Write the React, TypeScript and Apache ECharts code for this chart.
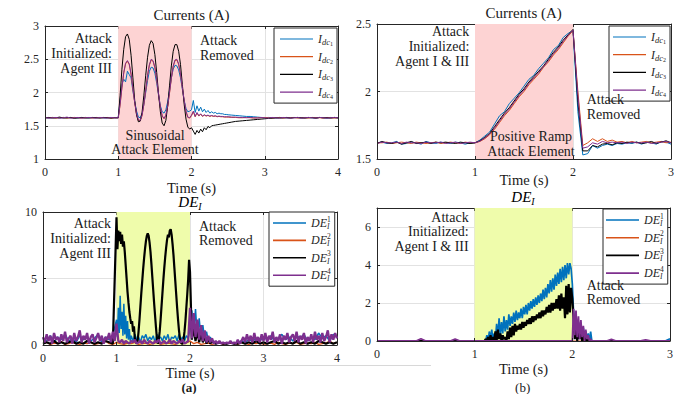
import React, { useEffect, useRef } from 'react';
import * as echarts from 'echarts';

const SERIF = 'Liberation Serif, serif';
const INK = '#262626';
const TXT = '#1a1a1a';
const BLUE = '#0072BD';
const ORANGE = '#D95319';
const BLACK = '#000000';
const PURPLE = '#7E2F8E';
const SHADE_RED = '#fdd3d3';
const SHADE_YEL = '#effcab';
const GRIDLINE = '#e2e2e2';

// ---------- (a) Currents, sinusoidal attack ----------
// segments: pre 0..0.95 (0.05), att 1.0..1.975 (0.025), post1 2.0..2.475 (0.025), post2 2.5..4.0 (0.05)
const A_BLUE_PRE = [1.62,1.615,1.625,1.62,1.615,1.625,1.62,1.62,1.625,1.615,1.62,1.625,1.615,1.62,1.62,1.625,1.615,1.62,1.625,1.62];
const A_BLUE_ATT = [1.62,1.88,2.12,2.20,2.16,2.32,2.27,2.22,2.02,1.86,1.72,1.63,1.62,1.68,1.82,2.00,2.18,2.32,2.38,2.37,2.29,2.14,1.96,1.80,1.71,1.69,1.74,1.86,2.03,2.22,2.35,2.41,2.40,2.34,2.22,2.05,1.88,1.76,1.71,1.72];
const A_BLUE_P1 = [1.74,1.88,1.70,1.80,1.72,1.78,1.71,1.75,1.70,1.73,1.69,1.71,1.69,1.70,1.68,1.69,1.68,1.68,1.67,1.67];
const A_BLUE_P2 = [1.665,1.66,1.655,1.65,1.645,1.64,1.64,1.635,1.63,1.625,1.62,1.625,1.62,1.615,1.625,1.62,1.615,1.62,1.625,1.62,1.615,1.625,1.62,1.62,1.615,1.625,1.62,1.615,1.625,1.62,1.615];
const A_ORANGE_PRE = [1.62,1.62,1.625,1.615,1.62,1.625,1.615,1.62,1.625,1.62,1.615,1.625,1.62,1.615,1.625,1.62,1.62,1.625,1.615,1.62];
const A_ORANGE_ATT = [1.62,1.81,2.07,2.29,2.43,2.47,2.42,2.27,2.06,1.84,1.67,1.58,1.575,1.65,1.82,2.03,2.25,2.41,2.49,2.47,2.37,2.19,1.97,1.77,1.645,1.605,1.655,1.79,1.99,2.21,2.39,2.48,2.49,2.42,2.27,2.07,1.87,1.71,1.625,1.615];
const A_ORANGE_P1 = [1.65,1.71,1.635,1.69,1.645,1.675,1.64,1.66,1.645,1.655,1.64,1.65,1.64,1.645,1.635,1.64,1.635,1.635,1.63,1.63];
const A_ORANGE_P2 = [1.63,1.625,1.625,1.62,1.62,1.625,1.62,1.615,1.62,1.62,1.625,1.62,1.615,1.62,1.625,1.615,1.62,1.62,1.625,1.615,1.62,1.62,1.615,1.625,1.62,1.62,1.615,1.625,1.62,1.615,1.62];
const A_BLACK_PRE = [1.62,1.625,1.615,1.62,1.63,1.615,1.62,1.625,1.61,1.62,1.625,1.615,1.62,1.625,1.62,1.615,1.625,1.62,1.615,1.62];
const A_BLACK_ATT = [1.62,1.95,2.35,2.65,2.84,2.88,2.80,2.56,2.22,1.88,1.66,1.56,1.57,1.70,1.96,2.26,2.53,2.71,2.78,2.74,2.57,2.30,1.98,1.71,1.54,1.50,1.58,1.80,2.10,2.40,2.62,2.72,2.72,2.62,2.42,2.12,1.82,1.60,1.48,1.45];
const A_BLACK_P1 = [1.47,1.42,1.37,1.43,1.39,1.45,1.41,1.47,1.44,1.49,1.47,1.50,1.505,1.51,1.515,1.52,1.525,1.53,1.535,1.54];
const A_BLACK_P2 = [1.545,1.555,1.565,1.57,1.575,1.58,1.585,1.59,1.595,1.60,1.605,1.61,1.615,1.62,1.615,1.62,1.625,1.615,1.62,1.625,1.62,1.615,1.625,1.62,1.615,1.625,1.62,1.62,1.615,1.625,1.62];
const A_PURPLE_PRE = [1.625,1.615,1.62,1.625,1.615,1.62,1.63,1.615,1.62,1.625,1.615,1.62,1.625,1.62,1.615,1.625,1.62,1.615,1.625,1.62];
const A_PURPLE_ATT = [1.62,1.82,2.08,2.30,2.44,2.48,2.43,2.28,2.07,1.85,1.68,1.59,1.58,1.66,1.83,2.04,2.26,2.42,2.50,2.48,2.38,2.20,1.98,1.78,1.65,1.61,1.66,1.80,2.00,2.22,2.40,2.49,2.50,2.43,2.28,2.08,1.88,1.72,1.63,1.62];
const A_PURPLE_P1 = [1.66,1.72,1.64,1.70,1.65,1.68,1.645,1.665,1.65,1.66,1.645,1.655,1.645,1.65,1.64,1.645,1.64,1.64,1.635,1.635];
const A_PURPLE_P2 = [1.635,1.63,1.63,1.625,1.625,1.62,1.625,1.62,1.615,1.625,1.62,1.615,1.625,1.62,1.615,1.625,1.62,1.615,1.62,1.625,1.615,1.62,1.625,1.62,1.615,1.625,1.62,1.615,1.62,1.625,1.62];

// ---------- (b) Currents, ramp attack ----------
// segments: pre 0..0.95, ramp 1.0..2.0, post 2.05..3.0 (all 0.05)
const B_BLUE_PRE = [1.62,1.625,1.615,1.62,1.63,1.61,1.615,1.625,1.62,1.61,1.63,1.62,1.615,1.625,1.62,1.615,1.625,1.62,1.61,1.62];
const B_BLUE_RAMP = [1.62,1.64,1.67,1.70,1.76,1.82,1.85,1.91,1.95,1.99,2.04,2.09,2.12,2.17,2.21,2.25,2.31,2.34,2.40,2.43,2.45];
const B_BLUE_POST = [1.85,1.53,1.54,1.60,1.58,1.60,1.61,1.60,1.615,1.61,1.62,1.615,1.625,1.61,1.625,1.62,1.61,1.63,1.625,1.61];
const B_ORANGE_PRE = [1.62,1.62,1.625,1.615,1.62,1.625,1.62,1.615,1.625,1.62,1.615,1.62,1.625,1.615,1.62,1.625,1.62,1.615,1.625,1.62];
const B_ORANGE_RAMP = [1.62,1.63,1.65,1.68,1.72,1.77,1.82,1.86,1.91,1.96,2.00,2.05,2.09,2.13,2.18,2.22,2.27,2.31,2.36,2.41,2.45];
const B_ORANGE_POST = [2.0,1.60,1.62,1.65,1.63,1.65,1.63,1.64,1.625,1.63,1.62,1.63,1.62,1.625,1.63,1.62,1.625,1.63,1.62,1.625];
const B_BLACK_PRE = [1.615,1.63,1.62,1.615,1.625,1.61,1.62,1.63,1.615,1.62,1.625,1.615,1.625,1.62,1.625,1.62,1.615,1.625,1.62,1.615];
const B_BLACK_RAMP = [1.62,1.635,1.66,1.69,1.74,1.79,1.84,1.88,1.93,1.98,2.02,2.07,2.11,2.15,2.19,2.24,2.29,2.33,2.38,2.42,2.46];
const B_BLACK_POST = [1.92,1.56,1.56,1.60,1.59,1.61,1.615,1.605,1.62,1.615,1.625,1.62,1.625,1.615,1.62,1.63,1.615,1.625,1.635,1.62];
const B_PURPLE_PRE = [1.615,1.625,1.62,1.62,1.625,1.615,1.625,1.62,1.62,1.615,1.625,1.62,1.62,1.625,1.615,1.62,1.625,1.615,1.62,1.625];
const B_PURPLE_RAMP = [1.62,1.632,1.655,1.685,1.73,1.78,1.83,1.87,1.92,1.97,2.01,2.06,2.10,2.14,2.185,2.23,2.28,2.32,2.37,2.415,2.455];
const B_PURPLE_POST = [1.97,1.58,1.59,1.62,1.61,1.63,1.62,1.625,1.62,1.625,1.615,1.625,1.62,1.62,1.625,1.615,1.62,1.625,1.63,1.62];

// ---------- (a) DE_I ----------
const C_BLUE_PRE = [0.5,0.3,0.7,0.2,0.6,0.4,0.8,0.3,0.5,0.2,0.7,0.4,0.6,0.3,0.5,0.8,0.2,0.6,0.4,0.7]; // 0..0.95 step 0.05
const C_BLUE_A1 = [1.9,0.6,2.8,0.9,3.7,1.2,2.5,0.7,3.1,0.8,2.2,0.5,1.8,0.4,1.2,0.3]; // 1.0.. step 0.0125
const C_BLUE_A2 = [0.7,0.3,0.8,0.4,0.6,0.2,0.7,0.5,0.8,0.3,0.6,0.4,0.7,0.2,0.8,0.5,0.6,0.3,0.7,0.4,0.8,0.2,0.6,0.5,0.7,0.3,0.8,0.4,0.6,0.3,0.7,0.5]; // 1.2.. step 0.025
const C_BLUE_P1 = [1.2,2.6,0.8,2.7,0.6,2.0,0.5,1.5,0.4,1.0,0.3,0.6]; // 2.0.. step 0.025
const C_BLUE_P2 = [0.2,0.1,0.2,0.1,0.1,0.2,0.1,0.2,0.3,0.2,0.4,0.3,0.5,0.3,0.6,0.4,0.7,0.3,0.5,0.8,0.4,0.6,0.3,0.7,0.5,0.8,0.3,0.6,0.4,0.9,0.5,0.7,0.3,0.8,0.6]; // 2.3.. step 0.05
const C_ORANGE = [0.1,0.2,0.05,0.15,0.1,0.25,0.05,0.1,0.2,0.1,0.05,0.15,0.1,0.2,0.05,0.1,0.15,0.3,0.1,0.05,0.2,0.1,0.05,0.15,0.1,0.2,0.05,0.1,0.15,0.05,0.1,0.2,0.05,0.1,0.15,0.1,0.05,0.2,0.1,0.15,0.3,0.1,0.2,0.05,0.1,0.15,0.05,0.1,0.2,0.05,0.1,0.15,0.1,0.05,0.2,0.1,0.05,0.15,0.1,0.2,0.05,0.1,0.15,0.05,0.2,0.1,0.05,0.15,0.1,0.2,0.05,0.1,0.15,0.1,0.2,0.05,0.1,0.15,0.3,0.1,0.2]; // 0..4 step 0.05
const C_BLACK_PRE = [0.1,0.2,0.1,0.3,0.1,0.2,0.1,0.2,0.3,0.1,0.2,0.1,0.3,0.2,0.1,0.2,0.1,0.3,0.2,0.1];
const C_BLACK_ATT = [9.6,7.2,8.6,7.8,8.5,7.6,8.3,7.4,7.8,7.0,6.0,5.0,4.0,3.2,2.5,2.0,1.6,1.8,1.0,1.4,0.5,0.3,0.1,0.3,1.0,1.9,2.9,3.9,4.8,5.7,6.5,7.2,7.8,8.2,8.4,8.2,7.7,7.0,6.1,5.1,4.1,3.1,2.2,1.3,0.5,0.1,0.4,1.0,1.9,2.9,3.9,4.9,5.8,6.6,7.3,7.9,8.3,8.1,8.6,8.7,8.3,7.6,6.8,5.8,4.8,3.8,2.8,1.9,1.1,0.5,0.2,0.1,0.1,0.4,1.0,1.8,2.8,3.8,4.9,6.4,5.5]; // 1.0..2.0 step 0.0125
const C_BLACK_P1 = [0.4,1.3,0.3,1.1,0.2,0.9,0.2,0.7,0.1,0.5,0.1,0.3]; // 2.025.. step 0.025
const C_BLACK_P2 = [0.1,0.2,0.1,0.1,0.2,0.1,0.1,0.2,0.1,0.2,0.1,0.3,0.1,0.2,0.1,0.2,0.3,0.1,0.2,0.1,0.2,0.1,0.3,0.1,0.2,0.1,0.2,0.1,0.3,0.2,0.1,0.2,0.1,0.2]; // 2.35.. step 0.05
const C_PURPLE_PRE = [0.6,0.2,0.8,0.3,0.7,0.1,0.9,0.4,0.6,0.2,0.8,0.3,1.0,0.2,0.5,0.7,0.1,0.9,0.3,0.6,1.1,0.2,0.7,0.4,0.9,0.1,0.6,0.8,0.2,0.5,0.9,0.3,0.7,0.1,0.6,0.4,0.9,0.2,1.0,0.3]; // 0.. step 0.025
const C_PURPLE_ATT = [1.6,0.3,0.2,0.4,0.1,0.3,0.2,0.1,0.3,0.2,0.4,0.1,0.2,0.3,0.1,0.4,0.2,0.1,0.3,0.2,0.1,0.3,0.2,0.4,0.1,0.2,0.3,0.1,0.2,0.4,0.1,0.3,0.2,0.1,0.3,0.2,0.4,0.1,0.2,0.3]; // 1.0.. step 0.025
const C_PURPLE_POST = [2.8,0.5,2.4,0.6,1.9,0.4,1.5,0.3,1.1,0.2,0.7,0.2,0.5,0.1,0.3,0.1,0.3,0.1,0.2,0.1,0.2,0.1,0.3,0.1,0.2,0.1,0.4,0.1,0.3,0.6,0.2,0.8,0.3,0.7,0.2,0.9,0.3,0.6,0.2,0.8,0.3,0.9,0.2,0.7,0.4,1.0,0.2,0.6,0.3,0.8,0.1,0.7,0.4,0.9,0.2,0.6,0.8,0.3,1.0,0.2,0.7,0.4,0.9,0.1,0.6,0.3,0.8,0.2,1.0,0.4,0.7,0.2,0.9,0.3,0.6,1.1,0.2,0.8,0.4,0.9,0.5]; // 2.0..4.0 step 0.025

// ---------- (b) DE_I ----------
const D_ZERO_PRE = [0,0,0,0,0,0,0,0,0,0,0]; // 0..1.0 step 0.1
const D_BLUE_ATT = [0,0,0.3,0,0.5,0.1,0.6,0,0.4,0.1,0.9,0.2,1.2,0.3,1.0,0.4,1.3,0.5,1.1,0.6,1.4,0.8,1.3,0.9,1.5,1.0,1.6,1.1,1.5,1.2,1.7,1.2,1.8,1.4,1.9,1.4,2.0,1.6,2.1,1.7,2.2,1.8,2.3,1.9,2.4,2.0,2.5,2.1,2.7,2.2,2.8,2.3,3.0,2.5,3.2,2.6,3.3,2.7,3.5,2.9,3.6,3.0,3.8,3.1,3.9,3.2,4.0,3.3,4.1,3.5,4.1,3.8,3.0]; // 1.1..2.0 step 0.0125
const D_BLUE_POST = [1.5,0.4,1.3,0.3,1.0,0.2,0.9,0.1,0.7,0.2,0.5,0.1,0.4,0,0.5,0]; // 2.0125.. step 0.0125
const D_BLUE_END = [0,0,0,0,0,0,0,0,0,0,0,0,0,0,0,0.12]; // 2.25..3.0 step 0.05
const D_BLACK_ATT = [0,0.1,0,0.2,0,0.3,0,0.2,0,0.5,0,0.6,0.1,0.4,0,0.3,0.1,0.2,0,0.5,0.1,0.7,0.2,0.8,0.3,0.9,0.5,0.8,0.6,0.9,0.6,1.0,0.7,1.0,0.8,1.1,0.9,1.2,0.9,1.3,1.0,1.3,1.1,1.4,1.2,1.5,1.2,1.6,1.3,1.6,1.4,1.8,1.5,1.9,1.5,2.0,1.6,2.0,1.7,2.2,1.7,2.4,1.6,2.5,1.7,2.3,1.2,2.9,1.4,3.0,1.5,2.8,2.2];
const D_BLACK_POST = [1.2,0.1,1.0,0,0.8,0.1,0.6,0,0.4,0,0.2,0,0.1,0,0,0];
const D_BLACK_END = [0,0,0,0,0,0,0,0,0,0,0,0,0,0,0,0];
const D_PURPLE_PRE = [0,0,0,0,0,0,0,0,0,0.12,0,0,0,0,0,0,0.1,0,0,0,0,0,0,0,0,0,0,0,0,0,0,0,0,0,0,0,0,0,0,0,0]; // 0..2.0 step 0.05
const D_PURPLE_POST = [1.7,0.3,1.6,0.2,1.3,0.1,1.1,0.2,0.8,0,0.6,0.1,0.3,0,0.1,0];
const D_PURPLE_END = [0,0,0,0.08,0,0,0,0,0,0,0.06,0,0,0,0,0];
const D_ORANGE = [0,0,0,0,0,0,0,0,0,0,0,0,0,0,0,0,0,0,0,0,0,0,0,0,0,0,0,0,0,0,0]; // 0..3 step 0.1

const X_MAX_A = 4;
const X_MAX_B = 3;

const seg = (t0: number, dt: number, vals: number[]) =>
  vals.map((v, i) => [Math.round((t0 + i * dt) * 10000) / 10000, v]);

function lineSeries(name: string, color: string, width: number, k: number, data: number[][], extra: any = {}) {
  return {
    type: 'line', name, xAxisIndex: 2 * k, yAxisIndex: 2 * k, data,
    symbol: 'none', showSymbol: false, silent: true, animation: false, clip: true,
    lineStyle: { color, width }, itemStyle: { color }, emphasis: { disabled: true },
    ...extra,
  };
}

function shade(color: string) {
  return { silent: true, itemStyle: { color }, data: [[{ xAxis: 1 }, { xAxis: 2 }]] };
}

function xAxesFor(k: number, max: number, nameGap: number) {
  const line = { show: true, onZero: false, lineStyle: { color: INK, width: 1 } };
  const tick = { show: true, inside: true, length: 3, lineStyle: { color: INK } };
  return [
    {
      type: 'value', gridIndex: k, position: 'bottom', min: 0, max, interval: 1, z: 5,
      axisLine: line, axisTick: tick,
      axisLabel: { color: INK, fontFamily: SERIF, fontSize: 12, margin: 7 },
      splitLine: { show: false },
      name: 'Time (s)', nameLocation: 'middle', nameGap, nameMoveOverlap: false,
      nameTextStyle: { color: TXT, fontFamily: SERIF, fontSize: 14.5, fontWeight: 'normal' },
    },
    {
      type: 'value', gridIndex: k, position: 'top', min: 0, max, interval: 1, z: 0,
      axisLine: line, axisTick: tick, axisLabel: { show: false },
      splitLine: { show: true, lineStyle: { color: GRIDLINE, width: 1 } },
    },
  ];
}

function yAxesFor(k: number, min: number, max: number, interval: number, showMax = true) {
  const line = { show: true, onZero: false, lineStyle: { color: INK, width: 1 } };
  const tick = { show: true, inside: true, length: 3, lineStyle: { color: INK } };
  return [
    {
      type: 'value', gridIndex: k, position: 'left', min, max, interval, z: 5,
      axisLine: line, axisTick: tick,
      axisLabel: { color: INK, fontFamily: SERIF, fontSize: 12, margin: 6, showMaxLabel: showMax },
      splitLine: { show: false },
    },
    {
      type: 'value', gridIndex: k, position: 'right', min, max, interval, z: 0,
      axisLine: line, axisTick: tick, axisLabel: { show: false },
      splitLine: { show: true, lineStyle: { color: GRIDLINE, width: 1 } },
    },
  ];
}

const RICH = {
  i: { fontFamily: SERIF, fontStyle: 'italic', fontSize: 12, lineHeight: 12, color: INK },
  s: { fontFamily: SERIF, fontStyle: 'italic', fontSize: 8.5, lineHeight: 12, padding: [6, 0, 0, 0], color: INK },
  ss: { fontFamily: SERIF, fontSize: 6, lineHeight: 12, padding: [10, 0, 0, 0], color: INK },
  d: { fontFamily: SERIF, fontStyle: 'italic', fontSize: 12, lineHeight: 12, color: INK },
  sp: { fontFamily: SERIF, fontSize: 7.5, lineHeight: 12, padding: [0, 0, 8, 0], width: 0, color: INK },
  sb: { fontFamily: SERIF, fontStyle: 'italic', fontSize: 7.5, lineHeight: 12, padding: [7, 0, 0, 0], color: INK },
};

const CUR_NAMES = ['Idc1', 'Idc2', 'Idc3', 'Idc4'];
const DE_NAMES = ['DE1', 'DE2', 'DE3', 'DE4'];

function legendFor(names: string[], left: number, top: number, gap: number, padLeft: number, thick: number) {
  const h = thick.toFixed(2);
  return {
    orient: 'vertical', left, top, itemWidth: 33, itemHeight: 12, itemGap: gap,
    icon: `path://M0,0 L33,0 L33,${h} L0,${h} Z`,
    padding: [3, 4, 3, padLeft], backgroundColor: '#fff', borderColor: INK, borderWidth: 1,
    borderRadius: 0, data: names, selectedMode: false, z: 8,
    textStyle: { color: INK, fontFamily: SERIF, fontSize: 12, rich: RICH },
    formatter: (name: string) =>
      name.startsWith('Idc') ? `{i|I}{s|dc}{ss|${name.slice(3)}}` : `{d|DE}{sp|${name.slice(2)}}{sb|I}`,
  };
}

function txt(text: string, x: number, y: number, align: string, lineHeight: number, extra: any = {}) {
  return {
    type: 'text', z: 10, silent: true,
    style: {
      text, x, y, align, textAlign: align, verticalAlign: 'top', textVerticalAlign: 'top',
      lineHeight, fontFamily: SERIF, fontSize: 14, fill: TXT, ...extra,
    },
  };
}

function deTitle(x: number, y: number) {
  return {
    type: 'text', z: 10, silent: true,
    style: {
      text: '{d|DE}{s|I}', x, y, align: 'center', verticalAlign: 'middle',
      textAlign: 'center', textVerticalAlign: 'middle',
      rich: {
        d: { fontFamily: SERIF, fontStyle: 'italic', fontSize: 15, lineHeight: 14, color: TXT },
        s: { fontFamily: SERIF, fontStyle: 'italic', fontSize: 10, lineHeight: 14, padding: [8, 0, 0, 0], color: TXT },
      },
    },
  };
}

export default function App() {
  const ref = useRef<HTMLDivElement>(null);
  useEffect(() => {
    if (!ref.current) return;
    const chart = echarts.init(ref.current, null, { renderer: 'svg' });

    const series: any[] = [
      // (a) currents
      lineSeries('Idc1', BLUE, 1, 0, [...seg(0, 0.05, A_BLUE_PRE), ...seg(1, 0.025, A_BLUE_ATT), ...seg(2, 0.025, A_BLUE_P1), ...seg(2.5, 0.05, A_BLUE_P2)], { markArea: shade(SHADE_RED) }),
      lineSeries('Idc2', ORANGE, 1, 0, [...seg(0, 0.05, A_ORANGE_PRE), ...seg(1, 0.025, A_ORANGE_ATT), ...seg(2, 0.025, A_ORANGE_P1), ...seg(2.5, 0.05, A_ORANGE_P2)]),
      lineSeries('Idc3', BLACK, 1, 0, [...seg(0, 0.05, A_BLACK_PRE), ...seg(1, 0.025, A_BLACK_ATT), ...seg(2, 0.025, A_BLACK_P1), ...seg(2.5, 0.05, A_BLACK_P2)]),
      lineSeries('Idc4', PURPLE, 1, 0, [...seg(0, 0.05, A_PURPLE_PRE), ...seg(1, 0.025, A_PURPLE_ATT), ...seg(2, 0.025, A_PURPLE_P1), ...seg(2.5, 0.05, A_PURPLE_P2)]),
      // (b) currents
      lineSeries('Idc1', BLUE, 1, 1, [...seg(0, 0.05, B_BLUE_PRE), ...seg(1, 0.05, B_BLUE_RAMP), ...seg(2.05, 0.05, B_BLUE_POST)], { markArea: shade(SHADE_RED) }),
      lineSeries('Idc2', ORANGE, 1, 1, [...seg(0, 0.05, B_ORANGE_PRE), ...seg(1, 0.05, B_ORANGE_RAMP), ...seg(2.05, 0.05, B_ORANGE_POST)]),
      lineSeries('Idc3', BLACK, 1, 1, [...seg(0, 0.05, B_BLACK_PRE), ...seg(1, 0.05, B_BLACK_RAMP), ...seg(2.05, 0.05, B_BLACK_POST)]),
      lineSeries('Idc4', PURPLE, 1, 1, [...seg(0, 0.05, B_PURPLE_PRE), ...seg(1, 0.05, B_PURPLE_RAMP), ...seg(2.05, 0.05, B_PURPLE_POST)]),
      // (a) DE
      lineSeries('DE1', BLUE, 1.5, 2, [...seg(0, 0.05, C_BLUE_PRE), ...seg(1, 0.0125, C_BLUE_A1), ...seg(1.2, 0.025, C_BLUE_A2), ...seg(2, 0.025, C_BLUE_P1), ...seg(2.3, 0.05, C_BLUE_P2)], { markArea: shade(SHADE_YEL) }),
      lineSeries('DE2', ORANGE, 1.4, 2, seg(0, 0.05, C_ORANGE)),
      lineSeries('DE3', BLACK, 2.2, 2, [...seg(0, 0.05, C_BLACK_PRE), ...seg(1, 0.0125, C_BLACK_ATT), ...seg(2.025, 0.025, C_BLACK_P1), ...seg(2.35, 0.05, C_BLACK_P2)]),
      lineSeries('DE4', PURPLE, 2.3, 2, [...seg(0, 0.025, C_PURPLE_PRE), ...seg(1, 0.025, C_PURPLE_ATT), ...seg(2, 0.025, C_PURPLE_POST)]),
      // (b) DE
      lineSeries('DE1', BLUE, 1.7, 3, [...seg(0, 0.1, D_ZERO_PRE), ...seg(1.1, 0.0125, D_BLUE_ATT), ...seg(2.0125, 0.0125, D_BLUE_POST), ...seg(2.25, 0.05, D_BLUE_END)], { markArea: shade(SHADE_YEL) }),
      lineSeries('DE2', ORANGE, 1.2, 3, seg(0, 0.1, D_ORANGE)),
      lineSeries('DE3', BLACK, 2.2, 3, [...seg(0, 0.1, D_ZERO_PRE), ...seg(1.1, 0.0125, D_BLACK_ATT), ...seg(2.0125, 0.0125, D_BLACK_POST), ...seg(2.25, 0.05, D_BLACK_END)]),
      lineSeries('DE4', PURPLE, 1.8, 3, [...seg(0, 0.05, D_PURPLE_PRE), ...seg(2.0125, 0.0125, D_PURPLE_POST), ...seg(2.25, 0.05, D_PURPLE_END)]),
    ];

    const option: any = {
      animation: false,
      backgroundColor: '#ffffff',
      grid: [
        { left: 45, top: 26, width: 293, height: 133 },
        { left: 377, top: 24, width: 294, height: 135 },
        { left: 43, top: 212, width: 294, height: 133 },
        { left: 377, top: 208, width: 293, height: 133 },
      ],
      xAxis: [
        ...xAxesFor(0, X_MAX_A, 21),
        ...xAxesFor(1, X_MAX_B, 13),
        ...xAxesFor(2, X_MAX_A, 20),
        ...xAxesFor(3, X_MAX_B, 20),
      ],
      yAxis: [
        ...yAxesFor(0, 1, 3, 0.5),
        ...yAxesFor(1, 1.5, 2.5, 0.5),
        ...yAxesFor(2, 0, 10, 5),
        ...yAxesFor(3, 0, 7, 2, false),
      ],
      legend: [
        legendFor(CUR_NAMES, 274, 28, 1.7, 6, 1.2),
        legendFor(CUR_NAMES, 609, 26, 1.7, 4, 1.2),
        legendFor(DE_NAMES, 269, 212, 1.4, 4, 1.6),
        legendFor(DE_NAMES, 603, 209, 1.7, 3, 1.6),
      ],
      series,
      graphic: [
        txt('Currents (A)', 191.5, 7, 'center', 16, { fontSize: 15 }),
        txt('Currents (A)', 523.7, 5, 'center', 16, { fontSize: 15 }),
        deTitle(190, 202),
        deTitle(523, 197),
        txt('Attack\nInitialized:\nAgent III', 112, 30.5, 'right', 15),
        txt('Attack\nRemoved', 200, 32.5, 'left', 15),
        txt('Sinusoidal\nAttack Element', 155, 128, 'center', 14.5),
        txt('Attack\nInitialized:\nAgent I & III', 469.3, 24.5, 'right', 14.7),
        txt('Attack\nRemoved', 586.7, 92.7, 'left', 14.5),
        txt('Positive Ramp\nAttack Element', 531, 129, 'center', 15),
        txt('Attack\nInitialized:\nAgent III', 111, 215.5, 'right', 15),
        txt('Attack\nRemoved', 199, 219, 'left', 14.5),
        txt('Attack\nInitialized:\nAgent I & III', 468.7, 209.7, 'right', 14.7),
        txt('Attack\nRemoved', 586.7, 278, 'left', 14.5),
        txt('(a)', 189, 381, 'center', 12, { fontWeight: 'bold', fontSize: 13 }),
        txt('(b)', 522.7, 381, 'center', 12, { fontSize: 13 }),
        {
          type: 'line', z: 1, silent: true,
          shape: { x1: 137, y1: 365.5, x2: 431, y2: 365.5 },
          style: { stroke: '#d8d8d8', lineWidth: 1 },
        },
      ],
    };
    chart.setOption(option);
    return () => chart.dispose();
  }, []);
  return (
    <div
      ref={ref}
      style={{ position: 'fixed', left: 0, top: 0, width: 692, height: 394, background: '#fff' }}
    />
  );
}
